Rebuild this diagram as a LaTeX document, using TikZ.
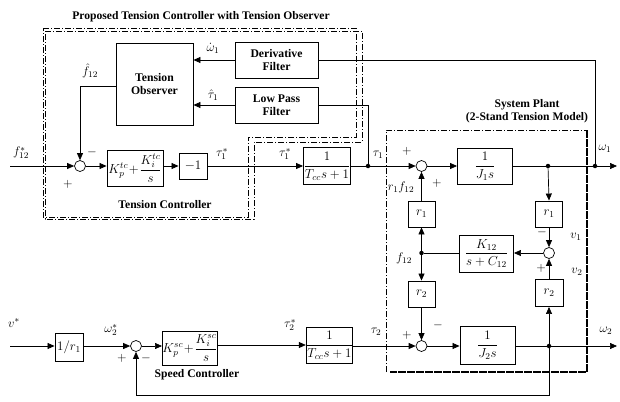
\RequirePackage{fix-cm}
\documentclass[tikz,border=0pt]{standalone}
\usepackage{fontspec}
\setmainfont{Liberation Serif}
\usepackage{amsmath}
\usetikzlibrary{arrows.meta}
\begin{document}
\begin{tikzpicture}[x=1pt,y=-1pt,
  font=\fontsize{12.5}{14}\selectfont,
  blk/.style={draw,line width=0.9pt,inner sep=0pt,align=center,font=\fontsize{13}{15}\selectfont},
  wblk/.style={blk,font=\fontsize{11.7}{13.5}\selectfont\bfseries},
  sumc/.style={draw,circle,line width=0.7pt,minimum size=11pt,inner sep=0pt},
  dotc/.style={circle,fill,inner sep=0pt,minimum size=4.5pt},
  arr/.style={line width=0.7pt,-{Triangle[length=7pt,width=6pt]}},
  ln/.style={line width=0.7pt},
  dd/.style={line width=0.7pt,dash pattern=on 6pt off 2pt on 1pt off 2pt},
  lbl/.style={inner sep=1pt},
  ttl/.style={font=\fontsize{11.6}{13.5}\selectfont\bfseries,align=center}]
\useasboundingbox (0,0) rectangle (620,401);

% dashed frames
\draw[dd] (43,28) -- (356,28) -- (356,137) -- (248,137) -- (248,217) -- (43,217) -- cycle;
\draw[dd] (45,31) -- (362,31) -- (362,142) -- (254,142) -- (254,219) -- (45,219) -- cycle;
\draw[dd] (386,372) -- (386,130) -- (587,130);
\draw[line width=2.2pt,dash pattern=on 8pt off 1pt] (587,130) -- (587,372) -- (390,372);

% titles
\node[ttl] (t1) at (201,17) {Proposed Tension Controller with Tension Observer};
\node[ttl] (t2) at (527,111) {System Plant\\(2-Stand Tension Model)};
\node[ttl] (t3) at (165,205) {Tension Controller};
\node[ttl] (t4) at (197,375) {Speed Controller};

% blocks
\node[wblk,minimum width=77pt,minimum height=82pt] (obs) at (154.5,84) {Tension\\Observer};
\node[wblk,minimum width=83pt,minimum height=36pt] (der) at (276.5,60) {Derivative\\Filter};
\node[wblk,minimum width=83pt,minimum height=36pt] (lpf) at (276.5,105) {Low Pass\\Filter};
\node[sumc] (s1) at (80,166) {};
\node[blk,minimum width=56pt,minimum height=36pt] (pi1) at (135,168) {$K_p^{tc}\!+\!\dfrac{K_i^{tc}}{s}$};
\node[blk,minimum width=28pt,minimum height=26pt] (neg) at (193,166) {$-1$};
\node[blk,minimum width=47pt,minimum height=37pt] (tf1) at (327,166) {$\dfrac{1}{T_{cc}s+1}$};
\node[sumc] (s2) at (421.5,166) {};
\node[blk,minimum width=55pt,minimum height=36pt] (j1) at (485,166) {$\dfrac{1}{J_1 s}$};
\node[blk,minimum width=27pt,minimum height=26pt] (r1a) at (421.5,214) {$r_1$};
\node[blk,minimum width=27pt,minimum height=26pt] (r1b) at (549,214) {$r_1$};
\node[sumc] (s3) at (549,253) {};
\node[blk,minimum width=54pt,minimum height=37pt] (k12) at (486.5,253.5) {$\dfrac{K_{12}}{s+C_{12}}$};
\node[blk,minimum width=27pt,minimum height=26pt] (r2a) at (421.5,294) {$r_2$};
\node[blk,minimum width=28pt,minimum height=27pt] (r2b) at (549,293) {$r_2$};
\node[sumc] (s4) at (421.5,346) {};
\node[blk,minimum width=55pt,minimum height=38pt] (j2) at (487.5,345) {$\dfrac{1}{J_2 s}$};
\node[blk,minimum width=45pt,minimum height=36pt] (tf2) at (329.5,345) {$\dfrac{1}{T_{cc}s+1}$};
\node[blk,minimum width=54pt,minimum height=34pt] (pi2) at (190,348) {$K_p^{sc}\!+\!\dfrac{K_i^{sc}}{s}$};
\node[sumc] (s5) at (136,346) {};
\node[blk,minimum width=28pt,minimum height=28pt] (inv) at (69,347) {$1/r_1$};

% junction dots and free ends
\node[dotc] (jt) at (368,166) {};
\node[dotc] (jo1) at (548,166) {};
\node[dotc] (jw1) at (595,166) {};
\node[dotc] (jf) at (421.5,253) {};
\node[dotc] (jw2) at (549,346) {};
\coordinate (in1) at (10,166);
\coordinate (in2) at (10,346);
\coordinate (out1) at (617,166);
\coordinate (out2) at (617,346);
\coordinate (c1) at (595,60);
\coordinate (c2) at (368,105);
\coordinate (c3) at (80,86);
\coordinate (c4) at (549,395);
\coordinate (c5) at (136,395);

% connectors
\draw[arr] (der.west) -- (obs.east |- der.west);
\draw[arr] (lpf.west) -- (obs.east |- lpf.west);
\draw[ln] (der.east) -- (c1) -- (jw1);
\draw[ln] (lpf.east) -- (c2) -- (jt);
\draw[arr] (obs.west |- c3) -- (c3) -- (s1.north);
\draw[arr] (in1) -- (s1.west);
\draw[arr] (s1.east) -- (pi1.west |- s1.east);
\draw[arr] (pi1.east |- neg.west) -- (neg.west);
\draw[arr] (neg.east) -- (tf1.west);
\draw[arr] (tf1.east) -- (jt) -- (s2.west);
\draw[arr] (s2.east) -- (j1.west);
\draw[ln] (j1.east) -- (jo1) -- (jw1);
\draw[arr] (jw1) -- (out1);
\draw[arr] (jo1) -- (r1b.north);
\draw[arr] (r1b.south) -- (s3.north);
\draw[arr] (s3.west) -- (k12.east |- s3.west);
\draw[ln] (k12.west |- jf) -- (jf);
\draw[arr] (jf) -- (r1a.south);
\draw[arr] (jf) -- (r2a.north);
\draw[arr] (r1a.north) -- (s2.south);
\draw[arr] (r2a.south) -- (s4.north);
\draw[arr] (r2b.north) -- (s3.south);
\draw[arr] (jw2) -- (r2b.south);
\draw[arr] (s4.east) -- (j2.west |- s4.east);
\draw[ln] (j2.east |- jw2) -- (jw2);
\draw[arr] (jw2) -- (out2);
\draw[arr] (jw2) -- (c4) -- (c5) -- (s5.south);
\draw[arr] (in2) -- (inv.west |- in2);
\draw[arr] (inv.east |- s5.west) -- (s5.west);
\draw[arr] (s5.east) -- (pi2.west |- s5.east);
\draw[arr] (pi2.east |- tf2.west) -- (tf2.west);
\draw[arr] (tf2.east |- s4.west) -- (s4.west);

% signal labels
\node[lbl] (l1) at (213,48) {$\dot{\omega}_1$};
\node[lbl] (l2) at (213,95) {$\hat{\tau}_1$};
\node[lbl] (l3) at (90,71) {$\hat{f}_{12}$};
\node[lbl] (l4) at (21,153) {$f_{12}^{*}$};
\node[lbl] (l5) at (92,152) {$-$};
\node[lbl] (l6) at (68,184) {$+$};
\node[lbl] (l7) at (222,154) {$\tau_1^{*}$};
\node[lbl] (l8) at (285,154) {$\tau_1^{*}$};
\node[lbl] (l9) at (378,155) {$\tau_1$};
\node[lbl] (l10) at (407,151) {$+$};
\node[lbl] (l11) at (437,183) {$+$};
\node[lbl] (l12) at (401,187) {$r_1 f_{12}$};
\node[lbl] (l13) at (605,149) {$\omega_1$};
\node[lbl] (l14) at (542,232) {$-$};
\node[lbl] (l15) at (576,237) {$v_1$};
\node[lbl] (l16) at (577,272) {$v_2$};
\node[lbl] (l17) at (541,268) {$+$};
\node[lbl] (l18) at (404,258) {$f_{12}$};
\node[lbl] (l19) at (438,325) {$-$};
\node[lbl] (l20) at (407,335) {$+$};
\node[lbl] (l21) at (376,332) {$\tau_2$};
\node[lbl] (l22) at (290,325) {$\tau_2^{*}$};
\node[lbl] (l23) at (606,331) {$\omega_2$};
\node[lbl] (l24) at (14,323) {$v^{*}$};
\node[lbl] (l25) at (111,330) {$\omega_2^{*}$};
\node[lbl] (l26) at (122,358) {$+$};
\node[lbl] (l27) at (146,358) {$-$};
\end{tikzpicture}
\end{document}
